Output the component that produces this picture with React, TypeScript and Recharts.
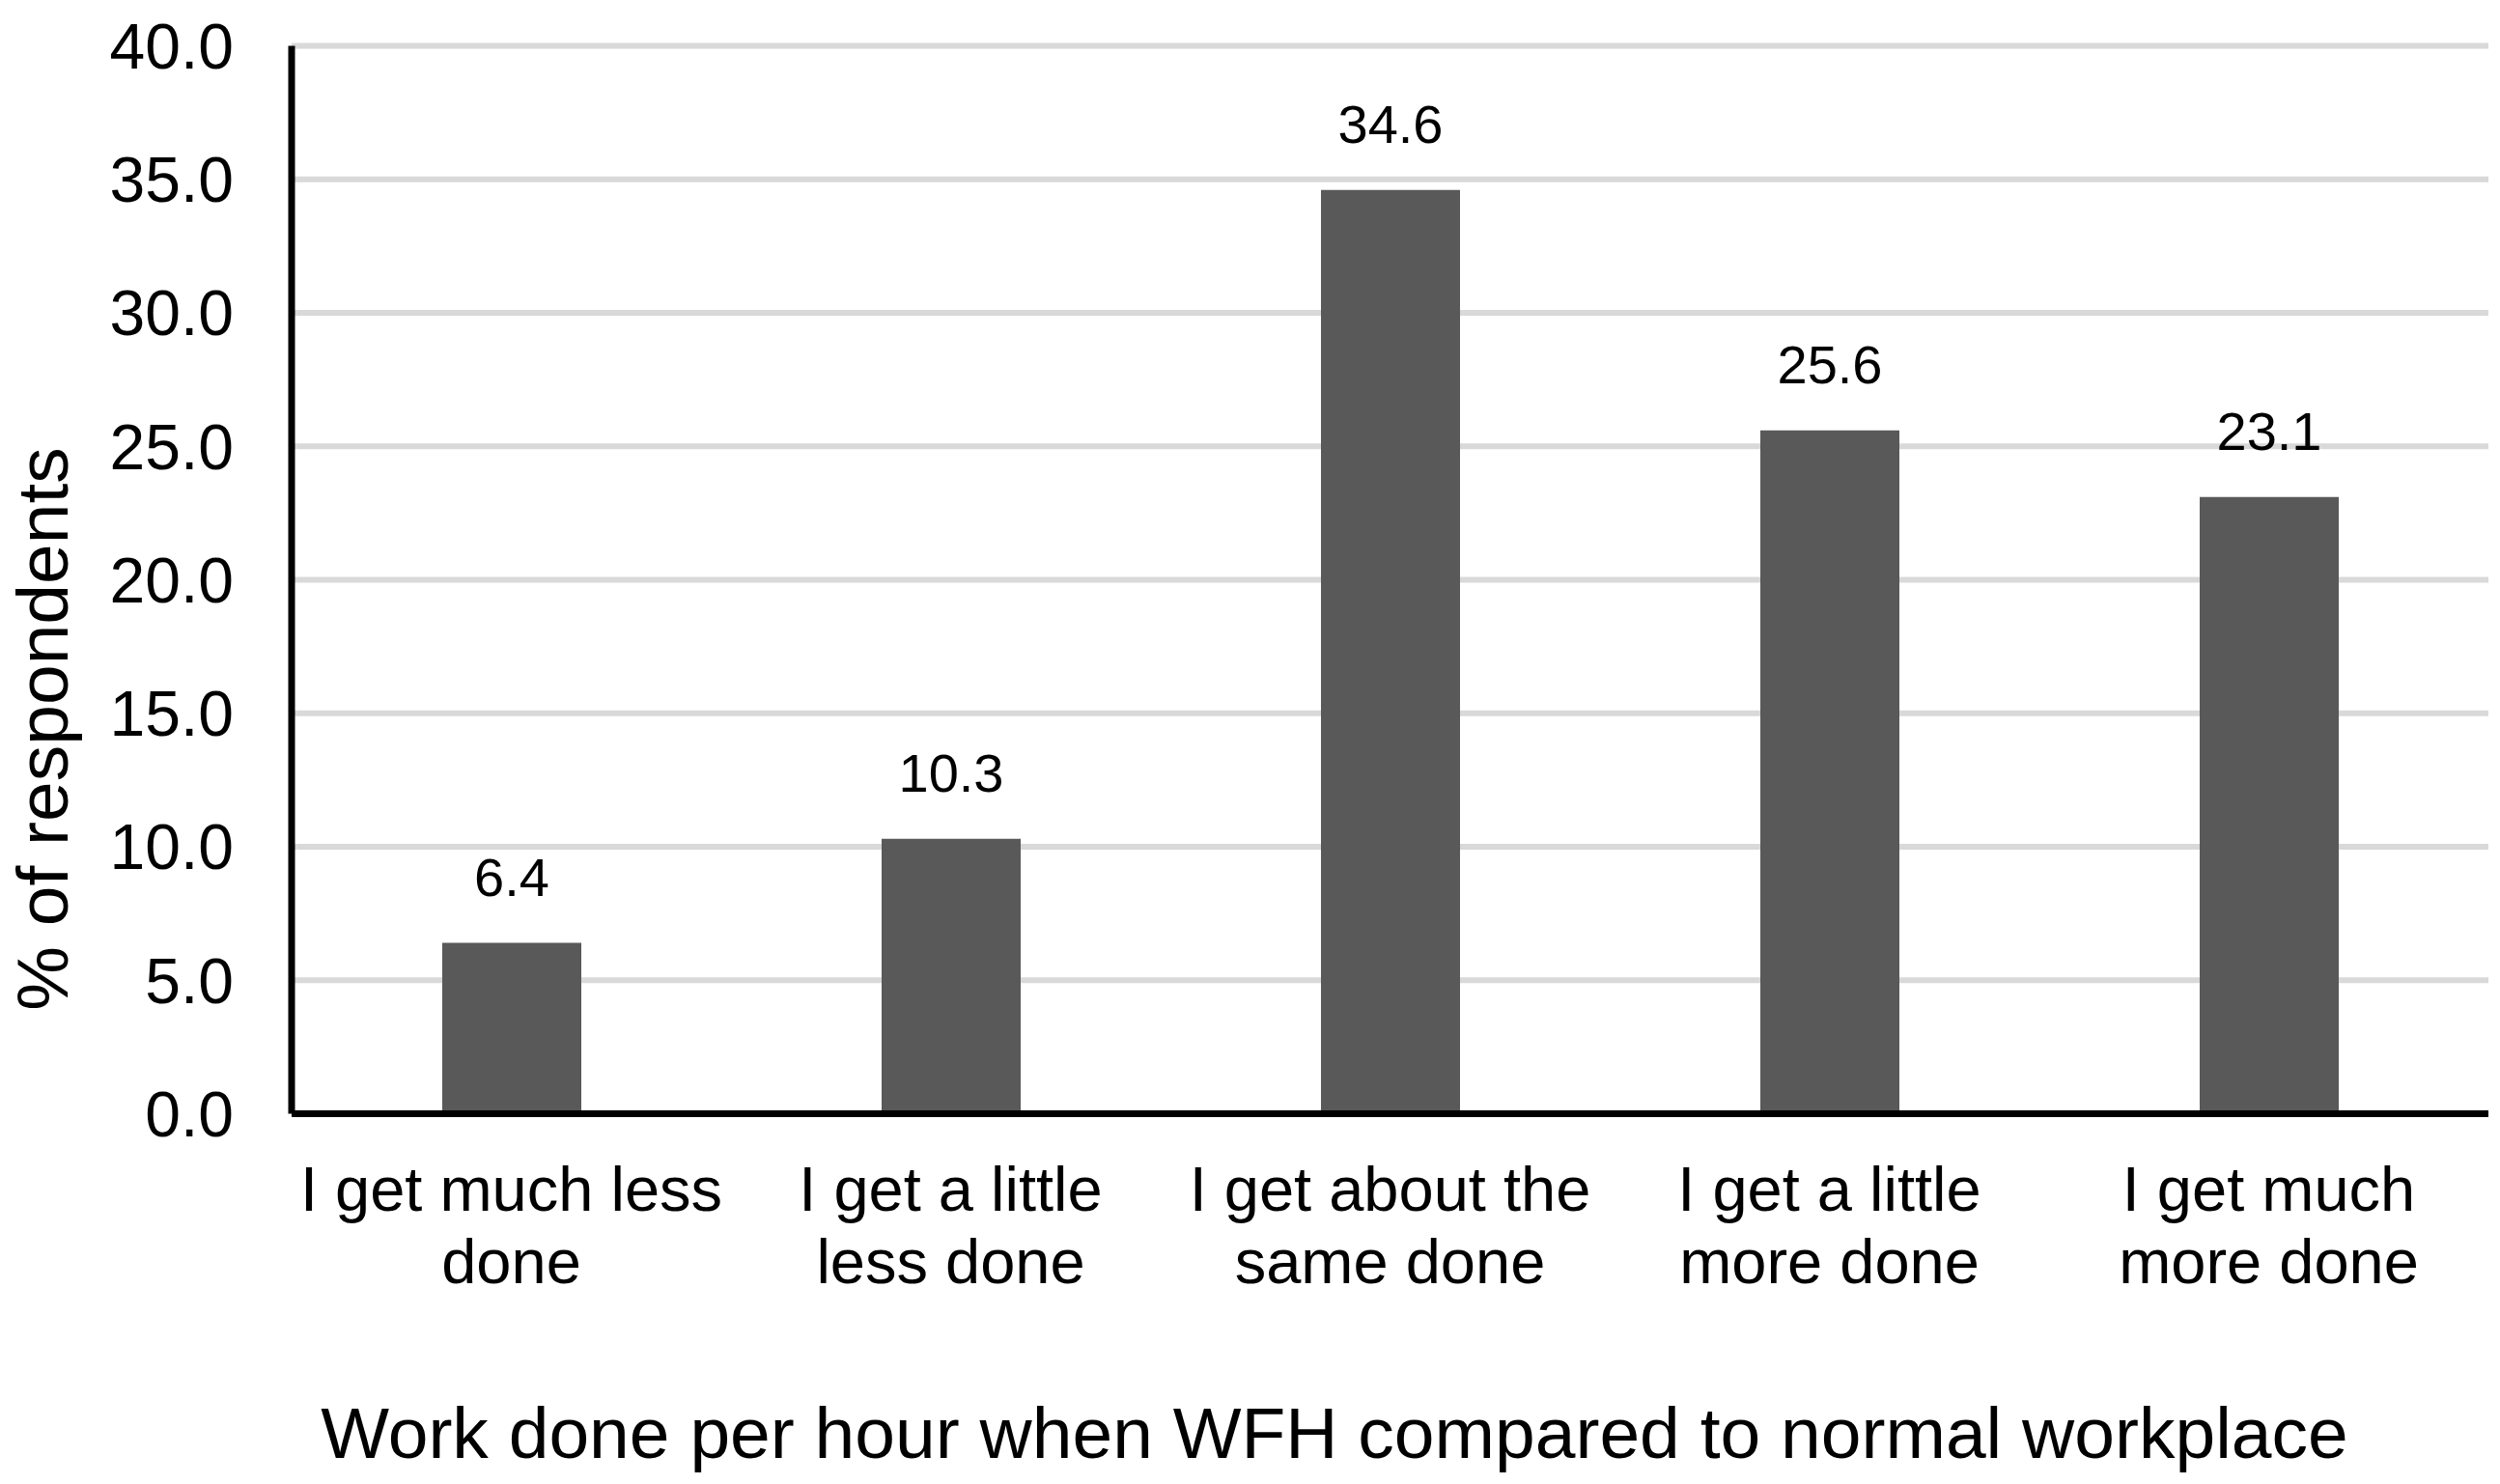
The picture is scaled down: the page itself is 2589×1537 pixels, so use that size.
import React from 'react';
import { BarChart, Bar, XAxis, YAxis, CartesianGrid, LabelList, Label } from 'recharts';

// survey answers, each label split on "\n" for the two-line axis text
const categories = [
  'I get much less\ndone',
  'I get a little\nless done',
  'I get about the\nsame done',
  'I get a little\nmore done',
  'I get much\nmore done',
];
const percentages = [6.4, 10.3, 34.6, 25.6, 23.1];
const yTicks = [0, 5, 10, 15, 20, 25, 30, 35, 40];

const xTitle = 'Work done per hour when WFH compared to normal workplace';
const yTitle = '% of respondents';

const FONT = '"Liberation Sans", Arial, sans-serif';

const data = categories.map((c, i) => ({ name: c, value: percentages[i] }));

function CategoryTick(props: any) {
  const { x, y, payload } = props;
  const lines = String(payload.value).split('\n');
  return (
    <text x={x} y={y} textAnchor="middle" fill="#000" fontSize={65} fontFamily={FONT}>
      {lines.map((line, i) => (
        <tspan key={i} x={x} y={y + 100 + i * 75}>
          {line}
        </tspan>
      ))}
    </text>
  );
}

export default function App() {
  return (
    <div style={{ position: 'absolute', left: 0, top: 0, fontFamily: FONT, background: '#fff' }}>
      <BarChart
        width={2589}
        height={1537}
        data={data}
        margin={{ top: 47.5, right: 12, bottom: 183.5, left: 0 }}
      >
        <CartesianGrid vertical={false} stroke="#d9d9d9" strokeWidth={6} />
        <XAxis
          dataKey="name"
          height={200}
          axisLine={{ stroke: '#000', strokeWidth: 7 }}
          tickLine={false}
          tickSize={0}
          tickMargin={0}
          interval={0}
          tick={<CategoryTick />}
        >
          <Label
            content={() => (
              <text x={1382} y={1510} textAnchor="middle" fill="#000" fontSize={75} fontFamily={FONT}>
                {xTitle}
              </text>
            )}
          />
        </XAxis>
        <YAxis
          width={302}
          domain={[0, 40]}
          ticks={yTicks}
          tickFormatter={(v: number) => v.toFixed(1)}
          axisLine={{ stroke: '#000', strokeWidth: 7 }}
          tickLine={false}
          tickSize={0}
          tickMargin={60}
          tick={{ fill: '#000', fontSize: 66, fontFamily: FONT }}
        >
          <Label
            content={() => (
              <text
                x={70}
                y={755}
                transform="rotate(-90 70 755)"
                textAnchor="middle"
                fill="#000"
                fontSize={75}
                fontFamily={FONT}
              >
                {yTitle}
              </text>
            )}
          />
        </YAxis>
        <Bar dataKey="value" fill="#595959" barSize={144} isAnimationActive={false}>
          <LabelList
            dataKey="value"
            position="top"
            offset={49}
            fill="#000"
            fontSize={56}
            fontFamily={FONT}
            formatter={(v: any) => Number(v).toFixed(1)}
          />
        </Bar>
      </BarChart>
    </div>
  );
}
